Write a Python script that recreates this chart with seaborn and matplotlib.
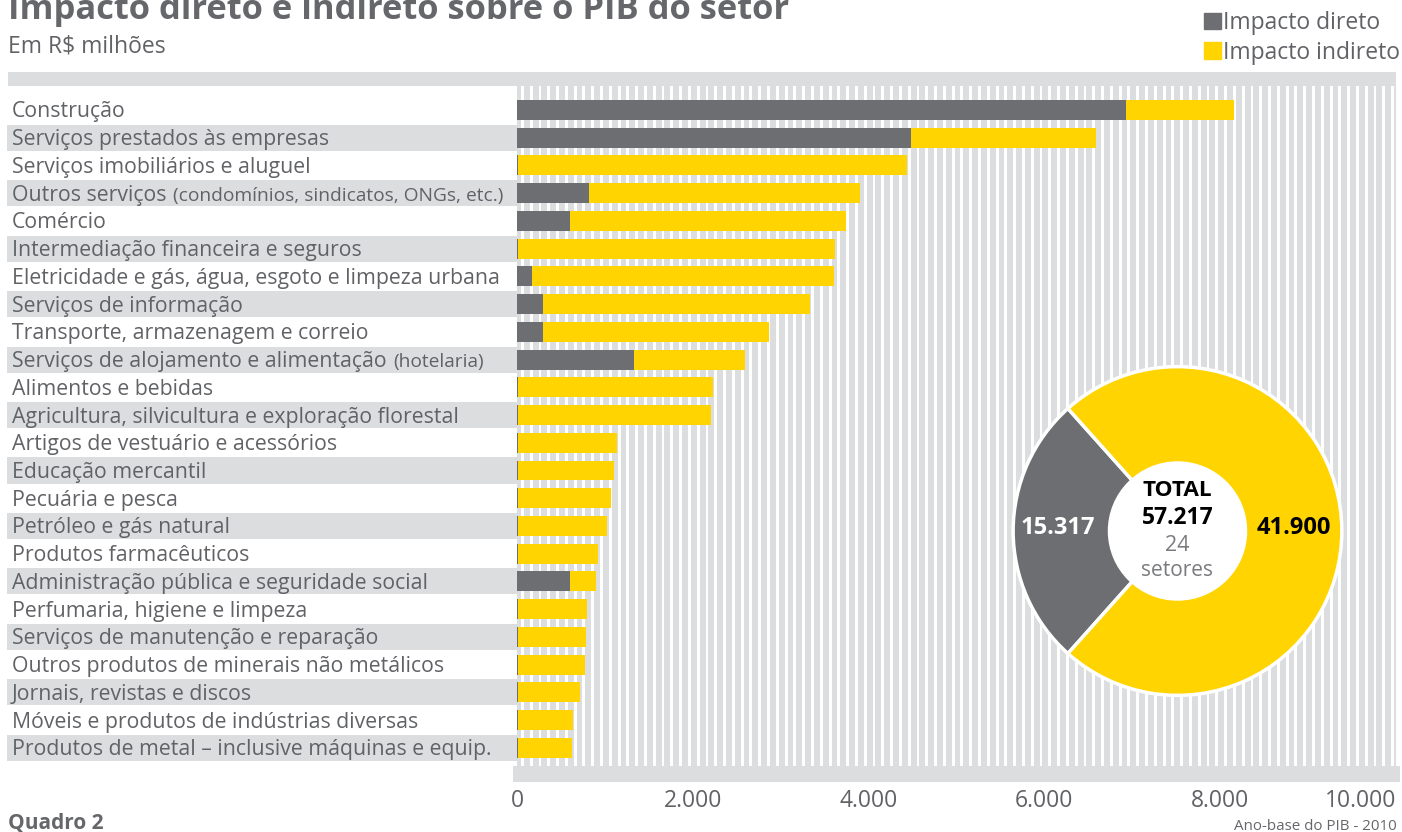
import matplotlib
matplotlib.use("Agg")
import matplotlib.pyplot as plt
import matplotlib.patches as mpatches
from matplotlib.patches import Circle
import seaborn as sns
import pandas as pd

# ---------------- data ----------------
setores = [
    "Construção",
    "Serviços prestados às empresas",
    "Serviços imobiliários e aluguel",
    "Outros serviços",
    "Comércio",
    "Intermediação financeira e seguros",
    "Eletricidade e gás, água, esgoto e limpeza urbana",
    "Serviços de informação",
    "Transporte, armazenagem e correio",
    "Serviços de alojamento e alimentação",
    "Alimentos e bebidas",
    "Agricultura, silvicultura e exploração florestal",
    "Artigos de vestuário e acessórios",
    "Educação mercantil",
    "Pecuária e pesca",
    "Petróleo e gás natural",
    "Produtos farmacêuticos",
    "Administração pública e seguridade social",
    "Perfumaria, higiene e limpeza",
    "Serviços de manutenção e reparação",
    "Outros produtos de minerais não metálicos",
    "Jornais, revistas e discos",
    "Móveis e produtos de indústrias diversas",
    "Produtos de metal – inclusive máquinas e equip.",
]
# smaller complements shown after some labels
complementos = {3: "(condomínios, sindicatos, ONGs, etc.)",
                9: "(hotelaria)"}

impacto_direto = [6930, 4483, 15, 819, 603, 15, 171, 296, 296, 1331,
                  15, 15, 15, 15, 15, 15, 15, 603, 15, 15, 15, 15, 15, 15]
impacto_indireto = [1229, 2106, 4423, 3084, 3141, 3604, 3436, 3038, 2572, 1263,
                    2215, 2193, 1123, 1089, 1055, 1009, 906, 296, 778, 770,
                    759, 702, 619, 611]

xticks = [0, 2000, 4000, 6000, 8000, 10000]
xtick_labels = ["0", "2.000", "4.000", "6.000", "8.000", "10.000"]

donut_values = [15317, 41900]
donut_labels = ["15.317", "41.900"]
total_label = "57.217"
n_setores = "24"

# ---------------- style ----------------
GRAY = "#6d6e71"
YELLOW = "#ffd400"
LIGHT = "#dcdddf"
TXT = "#616266"
FONT = "Open Sans"

sns.set_style("white")
plt.rcParams["font.family"] = [FONT, "DejaVu Sans"]

W, H = 1402, 832
fig = plt.figure(figsize=(W / 100, H / 100), dpi=100)
fig.patch.set_facecolor("white")

def fx(px):
    return px / W

def fy(py):
    return 1 - py / H

# main axes: x 517..1396 px, y 86..782 px
x0, x1 = 517, 1396
ytop, ybot = 86, 782
ax = fig.add_axes([fx(x0), fy(ybot), fx(x1 - x0), (ybot - ytop) / H])

row0, pitch = 110, 27.73

df = pd.DataFrame({
    "setor": setores,
    "direto": impacto_direto,
    "indireto": impacto_indireto,
})
df["total"] = df["direto"] + df["indireto"]

sns.barplot(data=df, x="total", y="setor", orient="h", color=YELLOW,
            saturation=1, width=0.72, linewidth=0, ax=ax, zorder=3,
            label="Impacto indireto")
sns.barplot(data=df, x="direto", y="setor", orient="h", color=GRAY,
            saturation=1, width=0.72, linewidth=0, ax=ax, zorder=4,
            label="Impacto direto")

ax.set_xlim(0, 10000)
ylim_top = (ytop - row0) / pitch
ylim_bot = (ybot - row0) / pitch
ax.set_ylim(ylim_bot, ylim_top)
ax.set_xlabel("")
ax.set_ylabel("")
ax.set_yticks([])
for s in ax.spines.values():
    s.set_visible(False)
if ax.get_legend() is not None:
    ax.get_legend().remove()

# vertical stripes background
stripe_bottom = (ybot - 766) / (ybot - ytop)
for k in range(0, 101):
    ax.axvspan(k * 100 - 22, k * 100 + 45, ymin=stripe_bottom, ymax=1,
               color=LIGHT, lw=0, zorder=0)

# bottom axis band
band_top = (766 - row0) / pitch
ax.axhspan(band_top, ylim_bot, xmin=(513 - x0) / (x1 - x0),
           xmax=(1400 - x0) / (x1 - x0), color=LIGHT, lw=0, zorder=1,
           clip_on=False)

# ticks
ax.set_xticks(xticks)
ax.set_xticklabels(xtick_labels)
ax.tick_params(axis="x", direction="in", length=11.5, width=4.3,
               color=GRAY, labelcolor=TXT, labelsize=16.5, pad=5)
for t in ax.xaxis.get_major_ticks():
    t.tick1line.set_zorder(5)
ax.get_xticklabels()[-1].set_ha("right")
ax.get_xticklabels()[-1].set_x(10000)
ax.set_axisbelow(False)

# top band
ax.axhspan(ylim_top - 14 / pitch, ylim_top, xmin=(8 - x0) / (x1 - x0),
           xmax=1, color=LIGHT, lw=0, clip_on=False, zorder=1)

# label rows
ytrans = ax.get_yaxis_transform()
for i, name in enumerate(setores):
    if i % 2 == 1:
        ax.axhspan(i - 0.47, i + 0.47, xmin=(7 - x0) / (x1 - x0),
                   xmax=(518 - x0) / (x1 - x0), color=LIGHT, lw=0,
                   clip_on=False, zorder=1)
    ax.text((12 - x0) / (x1 - x0), i + 0.27, name, transform=ytrans,
            ha="left", va="baseline", fontsize=15.35, color=TXT, zorder=6)

fig.canvas.draw()
renderer = fig.canvas.get_renderer()
for i, extra in complementos.items():
    base = [t for t in ax.texts if t.get_text() == setores[i]][0]
    bb = base.get_window_extent(renderer)
    xpx = bb.x1 + 7
    xa = (xpx - ax.bbox.x0) / ax.bbox.width
    ax.text(xa, i + 0.27, extra, transform=ytrans, ha="left", va="baseline",
            fontsize=13.8, color=TXT, zorder=6)

# ---------------- donut ----------------
cx, cy, r = 1177.5, 531, 166
dax = fig.add_axes([fx(cx - r), fy(cy + r), fx(2 * r), 2 * r / H])
gray_angle = donut_values[0] / sum(donut_values) * 360
dax.pie(donut_values, colors=[GRAY, YELLOW], startangle=180 - gray_angle / 2,
        counterclock=True,
        wedgeprops=dict(width=0.6, edgecolor="white", linewidth=2.5))
dax.add_patch(Circle((0, 0), 0.42, color="white", zorder=5))
dax.set_xlim(-1.01, 1.01)
dax.set_ylim(-1.01, 1.01)
dax.set_aspect("equal")
dax.axis("off")
dax.text(-0.725, 0.02, donut_labels[0], ha="center", va="center",
         fontsize=17, fontweight="bold", color="white", zorder=6)
dax.text(0.71, 0.02, donut_labels[1], ha="center", va="center",
         fontsize=17, fontweight="bold", color="black", zorder=6)
dax.text(0, 0.245, "TOTAL", ha="center", va="center", fontsize=16.2,
         fontweight="bold", color="black", zorder=6)
dax.text(0, 0.08, total_label, ha="center", va="center", fontsize=16.5,
         fontweight="bold", color="black", zorder=6)
dax.text(0, -0.09, n_setores, ha="center", va="center", fontsize=15.5,
         color="#7a7b7e", zorder=6)
dax.text(0, -0.24, "setores", ha="center", va="center", fontsize=15,
         color="#7a7b7e", zorder=6)

# ---------------- titles / legend ----------------
fig.text(fx(8), fy(19), "Impacto direto e indireto sobre o PIB do setor",
         fontsize=24.8, fontweight="bold", color="#66676b", va="baseline",
         ha="left")
fig.text(fx(8), fy(46), "Em R$ milhões", fontsize=16.5, color=TXT,
         va="center", ha="left")

handles = [mpatches.Patch(color=GRAY, label="Impacto direto"),
           mpatches.Patch(color=YELLOW, label="Impacto indireto")]
fig.legend(handles=handles, loc="upper right",
           bbox_to_anchor=(fx(1400), fy(11)), frameon=False, fontsize=16.5,
           handlelength=0.75, handleheight=0.75, handletextpad=0.1,
           labelspacing=0.25, borderpad=0, borderaxespad=0,
           labelcolor=TXT)

fig.text(fx(8), fy(823), "Quadro 2", fontsize=15, fontweight="bold",
         color="#66676b", va="center", ha="left")
fig.text(fx(1397), fy(826), "Ano-base do PIB - 2010", fontsize=10.9,
         color="#66676b", va="center", ha="right")

fig.savefig("out.png", dpi=100, facecolor="white")
